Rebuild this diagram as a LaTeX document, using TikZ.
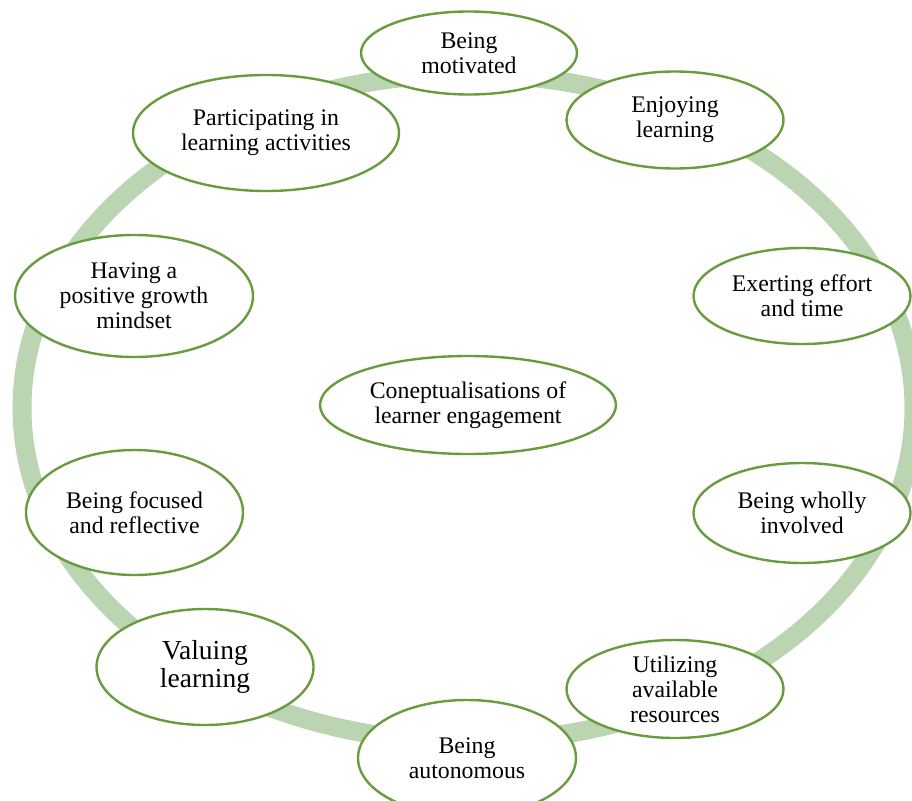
\documentclass[tikz,border=0pt]{standalone}
\usepackage{fontspec}
\setmainfont{Liberation Serif}
\usetikzlibrary{shapes.geometric}
\definecolor{ringgreen}{RGB}{187,213,179}
\definecolor{edgegreen}{RGB}{104,156,62}
\tikzset{
  ring/.style={draw=ringgreen, line width=19pt},
  idea/.style={ellipse, draw=edgegreen, line width=2.4pt, fill=white,
    inner sep=0pt, align=center, text=black,
    font=\fontsize{23.8pt}{25pt}\selectfont},
  big/.style={font=\fontsize{27.5pt}{28.5pt}\selectfont},
  eb/.style 2 args={minimum width=#1pt, minimum height=#2pt},
}
\begin{document}
\begin{tikzpicture}[x=1pt, y=-1pt]
  \useasboundingbox (0,0) rectangle (912,800);
  % outer ring
  \draw[ring] (468,408) ellipse [x radius=446pt, y radius=334pt];
  % centre
  \node[idea, eb={296}{98}] (core) at (468,405) {Coneptualisations of\\learner engagement};
  % ideas around the ring
  \node[idea, eb={216}{83}]  (motiv)  at (469,53)  {Being\\motivated};
  \node[idea, eb={217}{97}]  (enjoy)  at (675,120) {Enjoying\\learning};
  \node[idea, eb={217}{96}]  (exert)  at (802,296) {Exerting effort\\and time};
  \node[idea, eb={217}{100}] (wholly) at (802,513) {Being wholly\\involved};
  \node[idea, eb={217}{98}]  (util)   at (675,689) {Utilizing\\available\\resources};
  \node[idea, eb={218}{116}] (auton)  at (467,758) {Being\\autonomous};
  \node[idea, big, eb={217}{116}] (value) at (205,667) {Valuing\\learning};
  \node[idea, eb={217}{125}] (focus)  at (134.5,512.5) {Being focused\\and reflective};
  \node[idea, eb={238}{122}] (growth) at (134,296) {Having a\\positive growth\\mindset};
  \node[idea, eb={266}{116}] (partic) at (266,133) {Participating in\\learning activities};
\end{tikzpicture}
\end{document}
